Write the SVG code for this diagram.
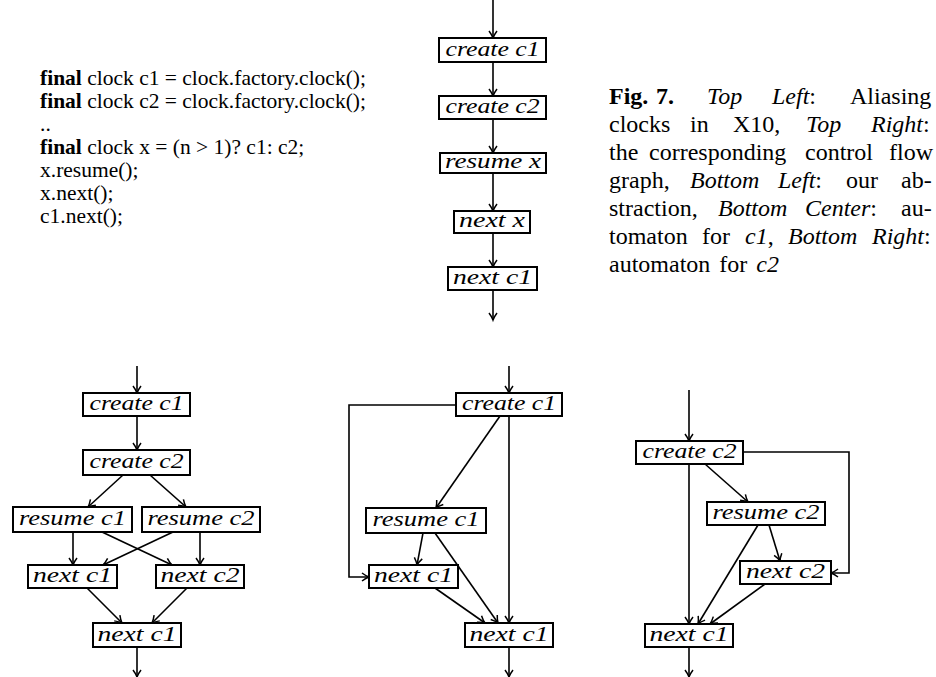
<svg xmlns="http://www.w3.org/2000/svg" width="936" height="677" viewBox="0 0 936 677">
<style>
.box{fill:#fff;stroke:#000;stroke-width:2}
.lbl{font-family:"Liberation Serif",serif;font-style:italic;font-size:21px;text-anchor:middle}
.edge{fill:none;stroke:#000;stroke-width:1.6;marker-end:url(#ah)}
.code{font-family:"Liberation Serif",serif;font-size:21.5px}
.cap{font-family:"Liberation Serif",serif;font-size:24px}
.b{font-weight:bold}
.i{font-style:italic}
</style>
<defs>
<marker id="ah" markerUnits="userSpaceOnUse" markerWidth="12" markerHeight="12" viewBox="-9 -6 11 12" refX="0" refY="0" orient="auto">
<path d="M-7,-4 Q-3,-1 0,0 Q-3,1 -7,4" fill="none" stroke="#000" stroke-width="1.5"/>
</marker>
</defs>
<rect width="936" height="677" fill="#fff"/>
<g id="code" class="code">
<text x="40" y="85"><tspan class="b">final</tspan> clock c1 = clock.factory.clock();</text>
<text x="40" y="108"><tspan class="b">final</tspan> clock c2 = clock.factory.clock();</text>
<text x="40" y="131">..</text>
<text x="40" y="154"><tspan class="b">final</tspan> clock x = (n &gt; 1)? c1: c2;</text>
<text x="40" y="177">x.resume();</text>
<text x="40" y="200">x.next();</text>
<text x="40" y="223">c1.next();</text>
</g>
<g id="caption" class="cap">
<text y="104"><tspan x="609" class="b">Fig.</tspan><tspan x="656" class="b">7.</tspan><tspan x="707" class="i">Top</tspan><tspan x="772" class="i">Left</tspan><tspan>:</tspan><tspan x="850">Aliasing</tspan></text>
<text y="132"><tspan x="609">clocks</tspan><tspan x="690">in</tspan><tspan x="733">X10,</tspan><tspan x="806" class="i">Top</tspan><tspan x="871" class="i">Right</tspan><tspan>:</tspan></text>
<text y="160"><tspan x="609">the</tspan><tspan x="649">corresponding</tspan><tspan x="805">control</tspan><tspan x="889">flow</tspan></text>
<text y="188"><tspan x="609">graph,</tspan><tspan x="690" class="i">Bottom</tspan><tspan x="778" class="i">Left</tspan><tspan>:</tspan><tspan x="846">our</tspan><tspan x="901">ab-</tspan></text>
<text y="216"><tspan x="609">straction,</tspan><tspan x="718" class="i">Bottom</tspan><tspan x="805" class="i">Center</tspan><tspan>:</tspan><tspan x="901">au-</tspan></text>
<text y="244"><tspan x="609">tomaton</tspan><tspan x="702">for</tspan><tspan x="745" class="i">c1</tspan><tspan>,</tspan><tspan x="788" class="i">Bottom</tspan><tspan x="872" class="i">Right</tspan><tspan>:</tspan></text>
<text y="272" word-spacing="3"><tspan x="609">automaton for </tspan><tspan class="i">c2</tspan></text>
</g>
<g id="connectors">
<path class="edge" d="M493,0 V38"/>
<path class="edge" d="M493,62 V96"/>
<path class="edge" d="M493,119 V153"/>
<path class="edge" d="M493,173 V211"/>
<path class="edge" d="M493,233 V267"/>
<path class="edge" d="M493,290 V320"/>
<path class="edge" d="M137,366 V393"/>
<path class="edge" d="M137,416 V450"/>
<path class="edge" d="M123,475 L88,507"/>
<path class="edge" d="M150,475 L186,507"/>
<path class="edge" d="M73,532 V565"/>
<path class="edge" d="M102,532 L172,565"/>
<path class="edge" d="M173,532 L103,565"/>
<path class="edge" d="M200,532 V565"/>
<path class="edge" d="M87,588 L122,623"/>
<path class="edge" d="M187,588 L152,623"/>
<path class="edge" d="M137,647 V677"/>
<path class="edge" d="M509,366 V393"/>
<path class="edge" d="M456,405 H349 V577 H369"/>
<path class="edge" d="M500,416 L436,508"/>
<path class="edge" d="M509,416 V623"/>
<path class="edge" d="M423,533 L417,565"/>
<path class="edge" d="M435,533 L498,623"/>
<path class="edge" d="M435,588 L485,623"/>
<path class="edge" d="M509,647 V677"/>
<path class="edge" d="M689,390 V441"/>
<path class="edge" d="M743,452 H849 V573 H831"/>
<path class="edge" d="M689,464 V624"/>
<path class="edge" d="M705,464 L748,502"/>
<path class="edge" d="M769,525 L780,561"/>
<path class="edge" d="M758,525 L698,624"/>
<path class="edge" d="M765,584 L710,624"/>
<path class="edge" d="M689,647 V677"/>
</g>
<g id="t1"><rect class="box" x="439" y="38" width="107" height="24"/><text class="lbl" x="492.5" y="56" textLength="94" lengthAdjust="spacingAndGlyphs">create c1</text></g>
<g id="t2"><rect class="box" x="439" y="96" width="107" height="23"/><text class="lbl" x="492.5" y="113" textLength="94" lengthAdjust="spacingAndGlyphs">create c2</text></g>
<g id="t3"><rect class="box" x="440" y="153" width="106" height="20"/><text class="lbl" x="493" y="168" textLength="96" lengthAdjust="spacingAndGlyphs">resume x</text></g>
<g id="t4"><rect class="box" x="454" y="211" width="76" height="22"/><text class="lbl" x="492" y="227" textLength="66" lengthAdjust="spacingAndGlyphs">next x</text></g>
<g id="t5"><rect class="box" x="448" y="267" width="89" height="23"/><text class="lbl" x="492.5" y="284" textLength="79" lengthAdjust="spacingAndGlyphs">next c1</text></g>
<g id="l1"><rect class="box" x="83" y="393" width="107" height="23"/><text class="lbl" x="136.5" y="410" textLength="94" lengthAdjust="spacingAndGlyphs">create c1</text></g>
<g id="l2"><rect class="box" x="83" y="450" width="107" height="25"/><text class="lbl" x="136.5" y="468" textLength="94" lengthAdjust="spacingAndGlyphs">create c2</text></g>
<g id="l3"><rect class="box" x="13" y="507" width="119" height="25"/><text class="lbl" x="72.5" y="525" textLength="107" lengthAdjust="spacingAndGlyphs">resume c1</text></g>
<g id="l4"><rect class="box" x="142" y="507" width="118" height="25"/><text class="lbl" x="201" y="525" textLength="107" lengthAdjust="spacingAndGlyphs">resume c2</text></g>
<g id="l5"><rect class="box" x="28" y="565" width="89" height="23"/><text class="lbl" x="72.5" y="582" textLength="79" lengthAdjust="spacingAndGlyphs">next c1</text></g>
<g id="l6"><rect class="box" x="156" y="565" width="88" height="23"/><text class="lbl" x="200" y="582" textLength="79" lengthAdjust="spacingAndGlyphs">next c2</text></g>
<g id="l7"><rect class="box" x="93" y="623" width="88" height="24"/><text class="lbl" x="137" y="641" textLength="79" lengthAdjust="spacingAndGlyphs">next c1</text></g>
<g id="c1"><rect class="box" x="456" y="393" width="106" height="23"/><text class="lbl" x="509" y="410" textLength="94" lengthAdjust="spacingAndGlyphs">create c1</text></g>
<g id="c2"><rect class="box" x="366" y="508" width="120" height="25"/><text class="lbl" x="426" y="526" textLength="107" lengthAdjust="spacingAndGlyphs">resume c1</text></g>
<g id="c3"><rect class="box" x="369" y="565" width="89" height="23"/><text class="lbl" x="413.5" y="582" textLength="79" lengthAdjust="spacingAndGlyphs">next c1</text></g>
<g id="c4"><rect class="box" x="465" y="623" width="88" height="24"/><text class="lbl" x="509" y="641" textLength="79" lengthAdjust="spacingAndGlyphs">next c1</text></g>
<g id="r1"><rect class="box" x="636" y="441" width="107" height="23"/><text class="lbl" x="689.5" y="458" textLength="94" lengthAdjust="spacingAndGlyphs">create c2</text></g>
<g id="r2"><rect class="box" x="707" y="502" width="118" height="23"/><text class="lbl" x="766" y="519" textLength="107" lengthAdjust="spacingAndGlyphs">resume c2</text></g>
<g id="r3"><rect class="box" x="740" y="561" width="91" height="23"/><text class="lbl" x="785.5" y="578" textLength="79" lengthAdjust="spacingAndGlyphs">next c2</text></g>
<g id="r4"><rect class="box" x="645" y="624" width="88" height="23"/><text class="lbl" x="689" y="641" textLength="79" lengthAdjust="spacingAndGlyphs">next c1</text></g>
</svg>
